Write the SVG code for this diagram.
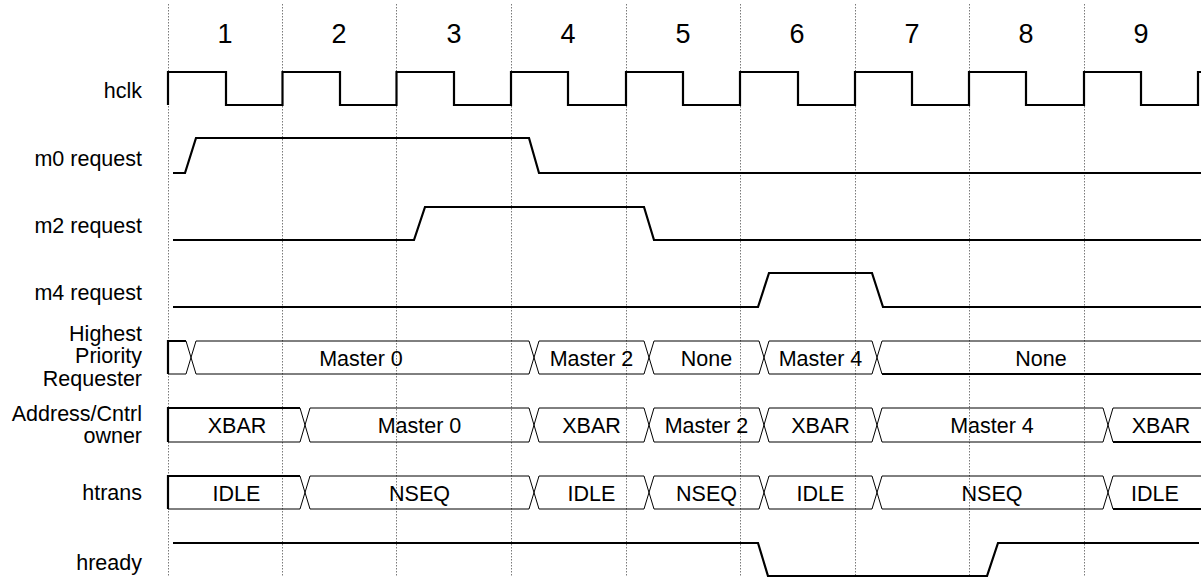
<svg xmlns="http://www.w3.org/2000/svg" width="1201" height="577" viewBox="0 0 1201 577">
<style>
.lbl{font-family:"Liberation Sans",Arial,Helvetica,sans-serif;font-size:21.5px;fill:#000;text-anchor:end}
.num{font-family:"Liberation Sans",Arial,Helvetica,sans-serif;font-size:27px;fill:#000;text-anchor:middle}
.bt{font-family:"Liberation Sans",Arial,Helvetica,sans-serif;font-size:21.5px;fill:#000;text-anchor:middle}
.grid{stroke:#7a7a7a;stroke-width:1;stroke-dasharray:1.5 1.5;fill:none}
.sig{stroke:#000;stroke-width:2.2;fill:none;stroke-linejoin:miter}
.bus{stroke:#000;stroke-width:1;fill:none}
.busk{stroke:#000;stroke-width:2.2;fill:none}
</style>
<rect width="1201" height="577" fill="#fff"/>
<g id="grid">
<line class="grid" x1="168.5" y1="4" x2="168.5" y2="577"/>
<line class="grid" x1="282.5" y1="4" x2="282.5" y2="577"/>
<line class="grid" x1="396.5" y1="4" x2="396.5" y2="577"/>
<line class="grid" x1="511.5" y1="4" x2="511.5" y2="577"/>
<line class="grid" x1="626.5" y1="4" x2="626.5" y2="577"/>
<line class="grid" x1="740.5" y1="4" x2="740.5" y2="577"/>
<line class="grid" x1="855.5" y1="4" x2="855.5" y2="577"/>
<line class="grid" x1="969.5" y1="4" x2="969.5" y2="577"/>
<line class="grid" x1="1084.5" y1="4" x2="1084.5" y2="577"/>
</g>
<g id="cycle-numbers">
<text class="num" x="225" y="43">1</text>
<text class="num" x="339" y="43">2</text>
<text class="num" x="454" y="43">3</text>
<text class="num" x="568" y="43">4</text>
<text class="num" x="683" y="43">5</text>
<text class="num" x="797" y="43">6</text>
<text class="num" x="912" y="43">7</text>
<text class="num" x="1026" y="43">8</text>
<text class="num" x="1141" y="43">9</text>
</g>
<g id="hclk">
<text class="lbl" x="142" y="98">hclk</text>
<path class="sig" d="M168,105 V72 H226 V105 H282.5 V72 H340 V105 H396.5 V72 H454 V105 H511 V72 H568 V105 H626 V72 H683 V105 H740 V72 H798 V105 H855 V72 H912 V105 H969 V72 H1026 V105 H1084 V72 H1141 V105 H1198 V72 H1201"/>
</g>
<g id="m0-request">
<text class="lbl" x="142" y="166">m0 request</text>
<path class="sig" d="M173,173 H185 L196,138 H529 L539,173 H1201"/>
</g>
<g id="m2-request">
<text class="lbl" x="142" y="233">m2 request</text>
<path class="sig" d="M173,240 H414 L425,207 H644 L654,240 H1201"/>
</g>
<g id="m4-request">
<text class="lbl" x="142" y="300">m4 request</text>
<path class="sig" d="M173,307 H758 L769,273 H872 L883,307 H1201"/>
</g>
<g id="highest-priority-requester">
<text class="lbl" x="142" y="340.5">Highest</text>
<text class="lbl" x="142" y="363">Priority</text>
<text class="lbl" x="142" y="385.5">Requester</text>
<path class="bus" d="M168,341 H186 L196,374 H529 L539,341 H644 L654,374 H759 L769,341 H872 L882,374 H1201"/>
<path class="bus" d="M168,374 H186 L196,341 H529 L539,374 H644 L654,341 H759 L769,374 H872 L882,341 H1201"/>
<path class="busk" d="M186,341 H168 V374"/>
<path class="busk" d="M882,374 H1201"/>
<text class="bt" x="361" y="365.5">Master 0</text>
<text class="bt" x="591.5" y="365.5">Master 2</text>
<text class="bt" x="706.5" y="365.5">None</text>
<text class="bt" x="820.5" y="365.5">Master 4</text>
<text class="bt" x="1041" y="365.5">None</text>
</g>
<g id="address-cntrl-owner">
<text class="lbl" x="142" y="420.5">Address/Cntrl</text>
<text class="lbl" x="142" y="443">owner</text>
<path class="bus" d="M168,408 H300 L310,442 H529 L539,408 H644 L654,442 H759 L769,408 H872 L882,442 H1103 L1113,408 H1201"/>
<path class="bus" d="M168,442 H300 L310,408 H529 L539,442 H644 L654,408 H759 L769,442 H872 L882,408 H1103 L1113,442 H1201"/>
<path class="busk" d="M300,408 H168 V442"/>
<path class="busk" d="M1113,442 H1201"/>
<text class="bt" x="237" y="433">XBAR</text>
<text class="bt" x="419.5" y="433">Master 0</text>
<text class="bt" x="591.5" y="433">XBAR</text>
<text class="bt" x="706.5" y="433">Master 2</text>
<text class="bt" x="820.5" y="433">XBAR</text>
<text class="bt" x="992" y="433">Master 4</text>
<text class="bt" x="1161" y="433">XBAR</text>
</g>
<g id="htrans">
<text class="lbl" x="142" y="500">htrans</text>
<path class="bus" d="M168,476 H300 L310,509 H529 L539,476 H644 L654,509 H759 L769,476 H872 L882,509 H1103 L1113,476 H1201"/>
<path class="bus" d="M168,509 H300 L310,476 H529 L539,509 H644 L654,476 H759 L769,509 H872 L882,476 H1103 L1113,509 H1201"/>
<path class="busk" d="M300,476 H168 V509"/>
<path class="busk" d="M1113,509 H1201"/>
<text class="bt" x="236.5" y="500.5">IDLE</text>
<text class="bt" x="419.5" y="500.5">NSEQ</text>
<text class="bt" x="591.5" y="500.5">IDLE</text>
<text class="bt" x="706.5" y="500.5">NSEQ</text>
<text class="bt" x="820.5" y="500.5">IDLE</text>
<text class="bt" x="992" y="500.5">NSEQ</text>
<text class="bt" x="1155" y="500.5">IDLE</text>
</g>
<g id="hready">
<text class="lbl" x="142" y="570">hready</text>
<path class="sig" d="M173,543 H758 L768,576 H987 L998,543 H1199"/>
</g>
<g id="connectors"></g>
</svg>
